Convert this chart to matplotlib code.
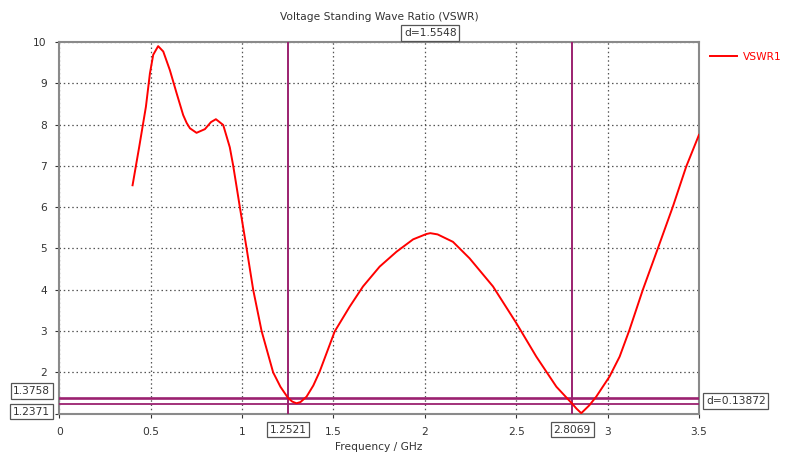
import numpy as np
import matplotlib
matplotlib.use("Agg")
import matplotlib.pyplot as plt

# ---- data
freq_ghz = [0.401, 0.437, 0.474, 0.496, 0.514, 0.541, 0.569, 0.605, 0.642, 0.678,
            0.697, 0.715, 0.751, 0.797, 0.83, 0.857, 0.897, 0.933, 0.951, 0.97,
            0.988, 1.025, 1.061, 1.107, 1.17, 1.21, 1.2521, 1.275, 1.298, 1.32,
            1.353, 1.39, 1.425, 1.507, 1.589, 1.662, 1.753, 1.845, 1.936, 2.009,
            2.03, 2.07, 2.154, 2.245, 2.373, 2.501, 2.61, 2.72, 2.8069, 2.83,
            2.856, 2.90, 2.938, 3.011, 3.066, 3.12, 3.193, 3.275, 3.357, 3.43,
            3.50]
vswr1 = [6.53, 7.45, 8.43, 9.24, 9.69, 9.90, 9.77, 9.32, 8.76, 8.23,
         8.04, 7.91, 7.80, 7.89, 8.06, 8.13, 7.99, 7.45, 7.02, 6.50,
         6.00, 5.00, 4.00, 3.00, 2.00, 1.65, 1.3758, 1.29, 1.25, 1.28,
         1.41, 1.68, 2.02, 2.99, 3.59, 4.08, 4.56, 4.92, 5.22, 5.35,
         5.37, 5.34, 5.16, 4.76, 4.08, 3.19, 2.38, 1.65, 1.2371, 1.12,
         1.01, 1.20, 1.41, 1.90, 2.38, 3.03, 4.00, 5.00, 6.01, 6.98,
         7.75]

marker_x = [1.2521, 2.8069]
marker_y = [1.3758, 1.2371]
delta_labels = ["d=1.5548", "d=0.13872"]
x_ticks = [0, 0.5, 1, 1.5, 2, 2.5, 3, 3.5]
x_ticklabels = ["0", "0.5", "1", "1.5", "2", "2.5", "3", "3.5"]
y_ticks = [1, 2, 3, 4, 5, 6, 7, 8, 9, 10]
y_ticklabels = ["", "2", "3", "4", "5", "6", "7", "8", "9", "10"]

MARK = "#9B2170"
TXT = "#333333"
FS = 7.7
BOX = dict(boxstyle="square,pad=0.25", fc="white", ec="#555555", lw=0.9)

fig = plt.figure(figsize=(7.85, 4.54), dpi=100)
ax = fig.add_axes([0.0755, 0.089, 0.8149, 0.8185])

ax.plot(freq_ghz, vswr1, color="#FF0000", lw=1.4, label="VSWR1", zorder=4)

# marker lines
ax.axvline(marker_x[0], color=MARK, lw=1.4, zorder=3)
ax.axvline(marker_x[1], color=MARK, lw=1.4, zorder=3)
ax.axhline(marker_y[0], color=MARK, lw=1.9, zorder=3)
ax.axhline(marker_y[1], color=MARK, lw=1.3, zorder=3)

ax.set_xlim(0, 3.5)
ax.set_ylim(1, 10)
ax.set_xticks(x_ticks)
ax.set_xticklabels(x_ticklabels)
ax.set_yticks(y_ticks)
ax.set_yticklabels(y_ticklabels)
ax.tick_params(labelsize=FS, colors=TXT, length=3, width=0.8, pad=6)
ax.tick_params(axis="x", pad=7)
ax.grid(True, color="#555555", linestyle=(0, (1.2, 2.2)), lw=0.9)
for s in ax.spines.values():
    s.set_color("#8a8a8a")
    s.set_linewidth(1.5)

ax.set_title("Voltage Standing Wave Ratio (VSWR)", fontsize=FS, color=TXT, pad=16)
ax.set_xlabel("Frequency / GHz", fontsize=FS, color=TXT, labelpad=3)

# marker value boxes
ax.annotate(f"{marker_y[0]:.4f}", xy=(0, marker_y[0]), xycoords=("axes fraction", "data"),
            xytext=(-9, 2), textcoords="offset pixels", ha="right", va="bottom",
            fontsize=FS, color=TXT, bbox=BOX, zorder=6)
ax.annotate(f"{marker_y[1]:.4f}", xy=(0, marker_y[1]), xycoords=("axes fraction", "data"),
            xytext=(-9, -3), textcoords="offset pixels", ha="right", va="top",
            fontsize=FS, color=TXT, bbox=BOX, zorder=6)
for mx in marker_x:
    ax.annotate(f"{mx:.4f}", xy=(mx, 0), xycoords=("data", "axes fraction"),
                xytext=(0, -16), textcoords="offset pixels", ha="center", va="center",
                fontsize=FS, color=TXT, bbox=BOX, zorder=6)

ax.annotate(delta_labels[0], xy=((marker_x[0] + marker_x[1]) / 2, 1), xycoords=("data", "axes fraction"),
            xytext=(0, 4), textcoords="offset pixels", ha="center", va="bottom",
            fontsize=FS, color=TXT, bbox=BOX, zorder=6)
ax.annotate(delta_labels[1], xy=(1, (marker_y[0] + marker_y[1]) / 2), xycoords=("axes fraction", "data"),
            xytext=(7, 0), textcoords="offset pixels", ha="left", va="center",
            fontsize=FS, color=TXT, bbox=BOX, zorder=6)

leg = ax.legend(loc="upper left", bbox_to_anchor=(1.01, 0.985), frameon=False,
                fontsize=FS, handlelength=2.6, borderaxespad=0, handletextpad=0.5)
for t in leg.get_texts():
    t.set_color("#FF0000")

fig.savefig("out.png", dpi=100)
